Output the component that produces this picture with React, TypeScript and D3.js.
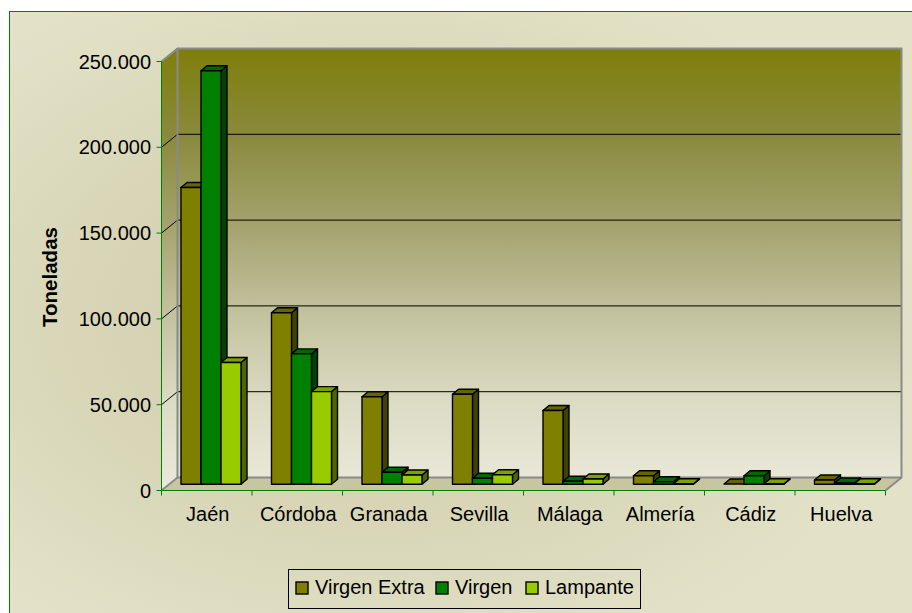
import React from "react";
import * as d3 from "d3";

const categories = ["Jaén", "Córdoba", "Granada", "Sevilla", "Málaga", "Almería", "Cádiz", "Huelva"];
const seriesNames = ["Virgen Extra", "Virgen", "Lampante"];
const virgenExtra = [173000, 100000, 51000, 52500, 43000, 5000, 200, 2500];
const virgen = [241000, 76000, 7000, 3500, 1800, 1500, 5000, 800];
const lampante = [71000, 54000, 5400, 5600, 3100, 300, 300, 300];
const yTicks = [0, 50000, 100000, 150000, 200000, 250000];
const axisTitle = "Toneladas";

const seriesValues = [virgenExtra, virgen, lampante];
const frontColors = ["#808000", "#008000", "#99cc00"];
const topColors = ["#646400", "#006600", "#7aa300"];
const sideColors = ["#424200", "#004200", "#4d6600"];

const W = 912;
const H = 613;
const DX = 16;
const DY = 13;
const BDX = 6;
const BDY = 5;
const FONT = "'Liberation Sans', Arial, Helvetica, sans-serif";

const locale = d3.formatLocale({ decimal: ",", thousands: ".", grouping: [3], currency: ["", ""] });
const fmt = locale.format(",");

export default function App() {
  const x = d3.scaleBand<string>().domain(categories).range([161.5, 885.5]).padding(0);
  const xs = d3.scaleBand<string>().domain(seriesNames).range([12, 72]).padding(0);
  const y = d3.scaleLinear().domain([0, 250000]).range([490.5, 61.5]);

  const x0 = 161.5;
  const x1 = 885.5;
  const yb = y(0);
  const yt = y(250000);

  const bars: React.ReactNode[] = [];
  categories.forEach((c, ci) => {
    seriesNames.forEach((s, si) => {
      const v = seriesValues[si][ci];
      const bx = (x(c) as number) + xs(s)! + 7.5;
      const bw = xs.bandwidth();
      const base = yb - 6.2;
      const top = y(v) - 6.2;
      const front = `M${bx},${top}H${bx + bw}V${base}H${bx}Z`;
      const side = `M${bx + bw},${top}L${bx + bw + BDX},${top - BDY}V${base - BDY}L${bx + bw},${base}Z`;
      const topF = `M${bx},${top}L${bx + BDX},${top - BDY}H${bx + bw + BDX}L${bx + bw},${top}Z`;
      bars.push(
        <g key={`${ci}-${si}`} stroke="#000" strokeWidth={1.4} strokeLinejoin="round">
          <path d={side} fill={sideColors[si]} />
          <path d={topF} fill={topColors[si]} />
          {base - top > 0.5 && <path d={front} fill={frontColors[si]} />}
        </g>
      );
    });
  });

  const legendX = [296, 436, 526];

  return (
    <svg width={W} height={H} style={{ position: "absolute", left: 0, top: 0 }} fontFamily={FONT}>
      <defs>
        <radialGradient id="bg" cx="0.4" cy="0.5" r="0.6">
          <stop offset="0" stopColor="#cecba8" />
          <stop offset="0.55" stopColor="#d8d6b7" />
          <stop offset="1" stopColor="#e3e2c8" />
        </radialGradient>
        <linearGradient id="wall" gradientUnits="userSpaceOnUse" x1="0" y1={yt - DY} x2="0" y2={yb}>
          <stop offset="0" stopColor="#7e7e0a" />
          <stop offset="0.2" stopColor="#8a8a3e" />
          <stop offset="0.4" stopColor="#a4a36e" />
          <stop offset="0.6" stopColor="#c3c29e" />
          <stop offset="0.8" stopColor="#dcdbc4" />
          <stop offset="1" stopColor="#ebeadb" />
        </linearGradient>
      </defs>
      <rect x={9.5} y={11.5} width={912} height={612} fill="url(#bg)" stroke="#008000" strokeWidth={1} />

      {/* side wall */}
      <path d={`M${x0},${yt}L${x0 + DX},${yt - DY}V${yb - DY}L${x0},${yb}Z`} fill="url(#wall)" />
      {/* back wall */}
      <rect x={x0 + DX} y={yt - DY} width={x1 - x0} height={yb - yt} fill="url(#wall)" />
      {/* floor */}
      <path d={`M${x0},${yb}L${x0 + DX},${yb - DY}H${x1 + DX}L${x1},${yb}Z`} fill="#c8c6a1" />

      {/* gridlines */}
      {yTicks.filter((t) => t > 0 && t < 250000).map((t) => (
        <g key={t} stroke="#000" strokeWidth={1}>
          <line x1={x0 + DX} x2={x1 + DX} y1={y(t) - DY} y2={y(t) - DY} />
          <line x1={x0} x2={x0 + DX} y1={y(t)} y2={y(t) - DY} />
        </g>
      ))}
      <line x1={x0} x2={x0 + DX} y1={yt} y2={yt - DY} stroke="#000" strokeWidth={1} />

      {/* wall edges */}
      <g stroke="#8a8a8a" strokeWidth={2} fill="none">
        <path d={`M${x0},${yt}L${x0 + DX},${yt - DY}H${x1 + DX}V${yb - DY}L${x1},${yb}`} />
        <path d={`M${x0 + DX},${yt - DY}V${yb - DY}H${x1 + DX}`} />
        <path d={`M${x0},${yb}L${x0 + DX},${yb - DY}`} />
      </g>

      {bars}

      {/* axes */}
      <g stroke="#008000" strokeWidth={1}>
        <line x1={x0} x2={x0} y1={yt} y2={yb} />
        <line x1={x0} x2={x1} y1={yb} y2={yb} />
        {yTicks.map((t) => (
          <line key={t} x1={x0 - 5} x2={x0} y1={y(t)} y2={y(t)} />
        ))}
        {categories.map((c) => (
          <line key={c} x1={(x(c) as number) + x.bandwidth()} x2={(x(c) as number) + x.bandwidth()} y1={yb} y2={yb + 5} />
        ))}
        <line x1={x0} x2={x0} y1={yb} y2={yb + 5} />
      </g>

      {yTicks.map((t) => (
        <text key={t} x={151} y={y(t) + 7} textAnchor="end" fontSize={20} fill="#000">
          {fmt(t)}
        </text>
      ))}
      {categories.map((c) => (
        <text key={c} x={(x(c) as number) + x.bandwidth() / 2 + 1} y={521} textAnchor="middle" fontSize={20} fill="#000">
          {c}
        </text>
      ))}
      <text transform={`translate(57,277) rotate(-90)`} textAnchor="middle" fontSize={20.5} fontWeight="bold" fill="#000">
        {axisTitle}
      </text>

      {/* legend */}
      <rect x={288.5} y={569.5} width={352} height={39} fill="none" stroke="#000" strokeWidth={1} />
      {seriesNames.map((s, i) => (
        <g key={s}>
          <rect x={legendX[i]} y={582} width={12} height={12} fill={frontColors[i]} stroke="#000" strokeWidth={1.4} />
          <text x={legendX[i] + 19} y={594} fontSize={20} fill="#000">
            {s}
          </text>
        </g>
      ))}
    </svg>
  );
}
